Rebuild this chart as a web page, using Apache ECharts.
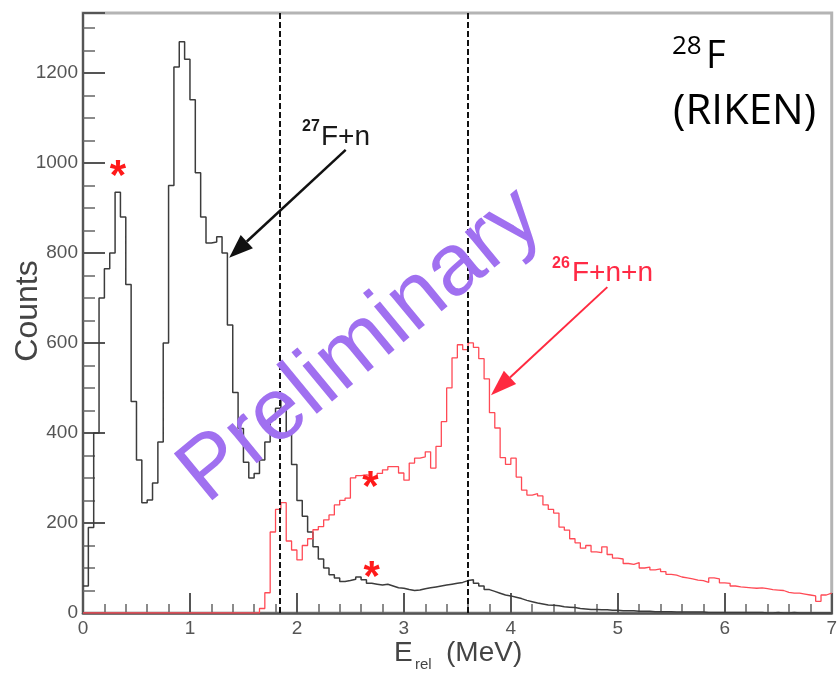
<!DOCTYPE html>
<html><head><meta charset="utf-8">
<script src="https://cdn.jsdelivr.net/npm/echarts@6/dist/echarts.min.js"></script>
<style>html,body{margin:0;padding:0;background:#fff}#c{width:840px;height:678px}</style>
</head><body><div id="c"></div>
<script>
// ---- data ----
const binWidth = 0.05;               // MeV per bin
const xTicks = [0, 1, 2, 3, 4, 5, 6, 7];
const yTicks = [0, 200, 400, 600, 800, 1000, 1200];
// 27F+n (black)
const countsF27n = [
  60, 190, 400, 700, 765, 800, 935, 880, 730, 470,
  340, 245, 251, 289, 380, 600, 950, 1213, 1269, 1230,
  1140, 978, 880, 822, 824, 836, 800, 640, 490, 410,
  335, 300, 310, 340, 380, 430, 455, 478, 400, 330,
  250, 215, 180, 147, 120, 100, 85, 78, 70, 72,
  75, 80, 74, 66, 64, 62, 64, 60, 56, 55,
  52, 50, 51, 54, 56, 58, 60, 62, 64, 66,
  68, 72, 74, 66, 60, 52, 48, 44, 40, 38,
  35, 32, 28, 25, 22, 20, 18, 17, 16, 14,
  13, 12, 10, 9, 8, 8, 7, 7, 6, 6,
  5, 5, 5, 4, 4, 4, 3, 3, 3, 3,
  2, 2, 2, 2, 2, 2, 1, 1, 1, 1,
  1, 1, 1, 1, 1, 1, 1, 0, 0, 1,
  0, 0, 1, 0, 0, 0, 0, 0, 0, 0
];
// 26F+n+n (red)
const countsF26nn = [
  0, 0, 0, 0, 0, 0, 0, 0, 0, 0,
  0, 0, 0, 0, 0, 0, 0, 0, 0, 0,
  0, 0, 0, 0, 0, 0, 0, 0, 0, 0,
  0, 0, 0, 10, 45, 180, 230, 245, 160, 140,
  118, 150, 165, 185, 192, 207, 218, 240, 250, 255,
  300, 305, 307, 305, 300, 310, 318, 325, 325, 311,
  295, 333, 344, 347, 358, 322, 370, 425, 500, 567,
  596, 585, 600, 590, 565, 520, 445, 411, 345, 330,
  344, 302, 273, 262, 265, 260, 240, 230, 222, 191,
  184, 165, 156, 144, 150, 136, 134, 147, 130, 122,
  120, 110, 108, 112, 100, 102, 96, 98, 92, 86,
  84, 80, 78, 76, 73, 72, 68, 78, 76, 67,
  66, 60, 58, 57, 56, 55, 56, 54, 52, 51,
  50, 46, 44, 44, 42, 40, 38, 26, 40, 44
];
const refLinesMeV = [1.84, 3.6];
const starPoints = [[0.326, 989], [2.688, 300], [2.698, 100]];
const arrowF27n = [[2.456, 1029], [1.367, 789]];
const arrowF26nn = [[4.902, 724], [3.814, 484]];

// ---- helpers ----
function histEdges(counts) {
  const pts = counts.map((v, i) => [+(i * binWidth).toFixed(4), v]);
  pts.push([+(counts.length * binWidth).toFixed(4), counts[counts.length - 1]]);
  return pts;
}

const FONT = 'Liberation Sans, Arial, sans-serif';
const chart = echarts.init(document.getElementById('c'), null, {renderer: 'canvas'});

const option = {
  animation: false,
  backgroundColor: '#fff',
  grid: {left: 83, right: 2, top: 13, bottom: 65, show: true, borderColor: '#b4b4b4', borderWidth: 3},
  xAxis: {
    type: 'value', min: xTicks[0], max: xTicks[xTicks.length - 1], interval: 1,
    axisLine: {lineStyle: {color: '#555', width: 2.5}},
    axisTick: {inside: true, length: 20, lineStyle: {color: '#555', width: 2}},
    minorTick: {show: true, splitNumber: 5, length: 9, lineStyle: {color: '#666', width: 1.5}},
    splitLine: {show: false},
    axisLabel: {margin: 6, fontSize: 19, color: '#555', fontFamily: FONT,
      formatter: v => xTicks.includes(v) ? String(v) : ''}
  },
  yAxis: {
    type: 'value', min: 0, max: 1333, interval: 200,
    axisLine: {lineStyle: {color: '#555', width: 2}},
    axisTick: {inside: true, length: 22, lineStyle: {color: '#555', width: 2}},
    minorTick: {show: true, splitNumber: 4, length: 12, lineStyle: {color: '#666', width: 1.5}},
    splitLine: {show: false},
    axisLabel: {margin: 5, fontSize: 19, color: '#555', fontFamily: FONT, showMaxLabel: false,
      formatter: v => yTicks.includes(v) ? String(v) : ''}
  },
  series: [
    {
      type: 'line', step: 'end', data: histEdges(countsF27n), showSymbol: false, silent: true,
      lineStyle: {color: '#3c3c3c', width: 1.5},
      markLine: {
        silent: true, symbol: ['none', 'none'], label: {show: false},
        lineStyle: {color: '#111', width: 2, type: [6, 3]},
        data: refLinesMeV.map(x => ({xAxis: x}))
      }
    },
    {
      type: 'line', step: 'end', data: histEdges(countsF26nn), showSymbol: false, silent: true,
      lineStyle: {color: '#ff4a55', width: 1.3}
    }
  ]
};
chart.setOption(option);

function arrow(from, to, color, width, headLen, headHalf) {
  const t = chart.convertToPixel({gridIndex: 0}, from);
  const p = chart.convertToPixel({gridIndex: 0}, to);
  const dx = p[0] - t[0], dy = p[1] - t[1];
  const len = Math.hypot(dx, dy);
  const ux = dx / len, uy = dy / len;
  const bx = p[0] - ux * headLen, by = p[1] - uy * headLen;
  const nx = -uy, ny = ux;
  return [
    {type: 'line', shape: {x1: t[0], y1: t[1], x2: bx, y2: by}, style: {stroke: color, lineWidth: width}, z: 20},
    {type: 'polygon', shape: {points: [[p[0], p[1]], [bx + nx * headHalf, by + ny * headHalf], [bx - nx * headHalf, by - ny * headHalf]]},
      style: {fill: color}, z: 20}
  ];
}
function txt(text, x, y, font, color, opts) {
  return Object.assign({type: 'text', x: x, y: y, z: 30,
    style: Object.assign({text: text, fill: color, font: font, align: 'left', verticalAlign: 'middle'}, (opts && opts.style) || {})},
    (opts && opts.el) || {});
}

const OPEN = '"Open Sans", "Noto Sans", sans-serif';
const graphics = [];
graphics.push(...arrow(arrowF27n[0], arrowF27n[1], '#111', 2.5, 24, 9));
graphics.push(...arrow(arrowF26nn[0], arrowF26nn[1], '#ff2a40', 2, 26, 9));
starPoints.forEach(sp => {
  const p = chart.convertToPixel({gridIndex: 0}, sp);
  graphics.push(txt('*', p[0], p[1] + 10, 'bold 42px ' + FONT, '#ff1a1a', {style: {align: 'center'}}));
});
// labels
graphics.push(txt('28', 672, 47, '26px ' + OPEN, '#000'));
graphics.push(txt('F', 706, 57, '38px ' + OPEN, '#000'));
graphics.push(txt('(RIKEN)', 673, 112, '42px ' + OPEN, '#000'));
graphics.push(txt('27', 302, 127, 'bold 16px ' + FONT, '#1a1a1a'));
graphics.push(txt('F+n', 321, 137, '28px ' + FONT, '#1a1a1a'));
graphics.push(txt('26', 552, 264, 'bold 16px ' + FONT, '#ff2a45'));
graphics.push(txt('F+n+n', 572, 273, '28px ' + FONT, '#ff2a45'));
// axis titles
graphics.push(txt('Counts', 28, 311, '32px ' + FONT, '#444', {style: {align: 'center'}, el: {rotation: Math.PI / 2}}));
graphics.push(txt('E', 394, 653, '28px ' + FONT, '#444'));
graphics.push(txt('rel', 415, 665, '15px ' + FONT, '#444'));
graphics.push(txt('(MeV)', 446, 653, '28px ' + FONT, '#444'));
// watermark
graphics.push(txt('Preliminary', 361, 346, '88px ' + FONT, '#a070f0', {style: {align: 'center'}, el: {rotation: 39.5 * Math.PI / 180, z: 40}}));

chart.setOption({graphic: graphics});
</script>
</body></html>
